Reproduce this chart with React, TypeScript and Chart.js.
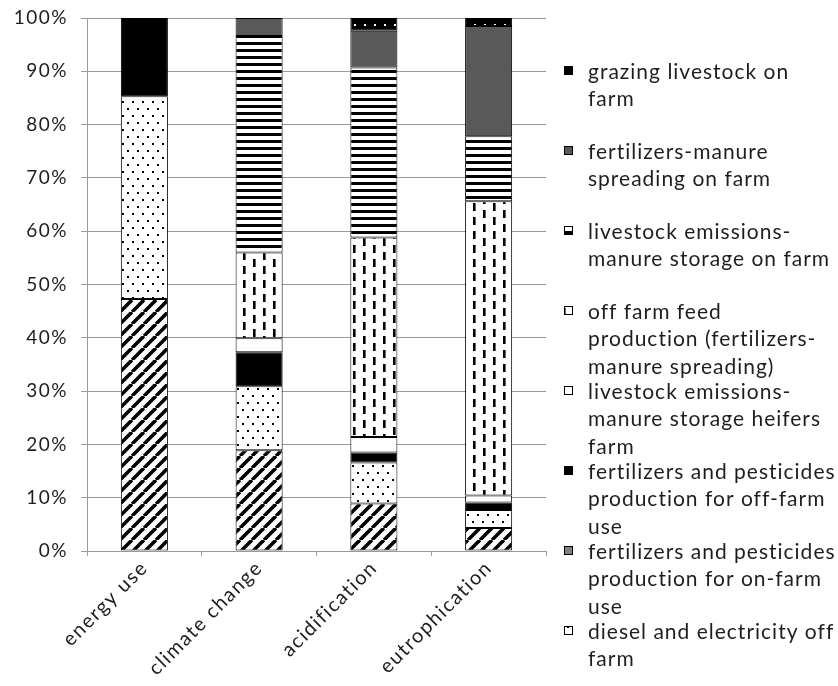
import { useEffect, useRef } from "react";
import { Chart, registerables } from "chart.js";

Chart.register(...registerables);

const categories = ["energy use", "climate change", "acidification", "eutrophication"];

// segment shares (%) per category, bottom to top
const dieselOnFarm = [47.3, 18.9, 8.9, 4.3];
const dieselOffFarm = [38.0, 12.0, 7.7, 3.4];
const fertPestOnFarm = [0, 0, 0, 0];
const fertPestOffFarm = [14.7, 6.4, 1.9, 1.4];
const heifersStorage = [0, 2.6, 2.9, 1.3];
const offFarmFeed = [0, 16.1, 37.4, 55.2];
const onFarmStorage = [0, 40.6, 31.9, 12.2];
const manureSpreading = [0, 3.4, 6.9, 20.7];
const grazing = [0, 0, 2.4, 1.5];

const yTickValues = [0, 10, 20, 30, 40, 50, 60, 70, 80, 90, 100];

// legend labels (as wrapped in the reference)
const labelDieselOn = ["diesel and electricity on farm"];
const labelDieselOff = ["diesel and electricity off", "farm"];
const labelFertOn = ["fertilizers and pesticides", "production for on-farm", "use"];
const labelFertOff = ["fertilizers and pesticides", "production for off-farm", "use"];
const labelHeifers = ["livestock emissions-", "manure storage heifers", "farm"];
const labelFeed = ["off farm feed", "production (fertilizers-", "manure spreading)"];
const labelStorage = ["livestock emissions-", "manure storage on farm"];
const labelSpreading = ["fertilizers-manure", "spreading on farm"];
const labelGrazing = ["grazing livestock on", "farm"];

const FONT = "Lato, 'Open Sans', sans-serif";
const SPACING = "1.5px";

function makeTile(w: number, h: number, draw: (c: CanvasRenderingContext2D) => void): CanvasPattern | string {
  const cv = document.createElement("canvas");
  cv.width = w;
  cv.height = h;
  const c = cv.getContext("2d");
  if (!c) return "#fff";
  draw(c);
  const p = c.createPattern(cv, "repeat");
  return p || "#fff";
}

function patterns() {
  const diagonal = makeTile(12, 12, (c) => {
    c.fillStyle = "#fff";
    c.fillRect(0, 0, 12, 12);
    c.strokeStyle = "#000";
    c.lineWidth = 3.6;
    for (const k of [-12, 0, 12]) {
      c.beginPath();
      c.moveTo(k, 12);
      c.lineTo(k + 12, 0);
      c.stroke();
    }
  });
  const dotted = makeTile(10, 14, (c) => {
    c.fillStyle = "#fff";
    c.fillRect(0, 0, 10, 14);
    c.fillStyle = "#000";
    c.fillRect(2, 3, 2, 2);
    c.fillRect(7, 10, 2, 2);
  });
  const dashed = makeTile(20, 14, (c) => {
    c.fillStyle = "#fff";
    c.fillRect(0, 0, 20, 14);
    c.fillStyle = "#000";
    c.fillRect(3, 0, 2.6, 8);
    c.fillRect(13, 7, 2.6, 7);
    c.fillRect(13, 0, 2.6, 1);
  });
  const stripes = makeTile(7, 7, (c) => {
    c.fillStyle = "#fff";
    c.fillRect(0, 0, 7, 7);
    c.fillStyle = "#000";
    c.fillRect(0, 0, 7, 3);
  });
  const grazingPat = makeTile(10, 10, (c) => {
    c.fillStyle = "#000";
    c.fillRect(0, 0, 10, 10);
    c.fillStyle = "#fff";
    c.fillRect(4, 4, 2, 2);
  });
  return { diagonal, dotted, dashed, stripes, grazingPat };
}

const spacingPlugin = {
  id: "letterSpacing",
  beforeDraw(chart: any) {
    (chart.ctx as any).letterSpacing = SPACING;
  },
};

const legendPlugin = {
  id: "customLegend",
  afterDraw(chart: any) {
    const ctx: CanvasRenderingContext2D = chart.ctx;
    const area = chart.chartArea;
    const sets = chart.data.datasets.filter((d: any) => d.inLegend).slice().reverse();
    ctx.save();
    (ctx as any).letterSpacing = "1px";
    ctx.font = `21px ${FONT}`;
    ctx.textBaseline = "middle";
    ctx.textAlign = "left";
    const iconX = area.right + 18;
    const textX = area.right + 42;
    sets.forEach((ds: any, i: number) => {
      const y0 = area.top + 54 + i * 80;
      ctx.fillStyle = ds.backgroundColor;
      ctx.fillRect(iconX, y0 - 6, 9, 9);
      ctx.strokeStyle = "#000";
      ctx.lineWidth = 1;
      ctx.strokeRect(iconX + 0.5, y0 - 5.5, 8, 8);
      ctx.fillStyle = "#1e1e1e";
      (ds.lines as string[]).forEach((line, j) => {
        ctx.fillText(line, textX, y0 + j * 27.7);
      });
    });
    ctx.restore();
    (ctx as any).letterSpacing = "0px";
  },
};

export default function App() {
  const ref = useRef<HTMLCanvasElement | null>(null);

  useEffect(() => {
    document.body.style.margin = "0";
    if (!ref.current) return;
    const p = patterns();
    const mk = (label: string[], data: number[], bg: any, inLegend = true) => ({
      label: label.join(" "),
      lines: label,
      inLegend,
      data,
      backgroundColor: bg,
      borderColor: "#000",
      borderWidth: 1,
      borderSkipped: false,
      barPercentage: 0.41,
      categoryPercentage: 1,
    });
    const chart = new Chart(ref.current, {
      type: "bar",
      data: {
        labels: categories,
        datasets: [
          mk(labelDieselOn, dieselOnFarm, p.diagonal, false),
          mk(labelDieselOff, dieselOffFarm, p.dotted),
          mk(labelFertOn, fertPestOnFarm, "#808080"),
          mk(labelFertOff, fertPestOffFarm, "#000000"),
          mk(labelHeifers, heifersStorage, "#ffffff"),
          mk(labelFeed, offFarmFeed, p.dashed),
          mk(labelStorage, onFarmStorage, p.stripes),
          mk(labelSpreading, manureSpreading, "#595959"),
          mk(labelGrazing, grazing, p.grazingPat),
        ] as any,
      },
      options: {
        animation: false,
        responsive: true,
        maintainAspectRatio: false,
        layout: { padding: { left: 0, right: 292, top: 18, bottom: 0 } },
        plugins: {
          legend: { display: false },
          tooltip: { enabled: false },
        },
        scales: {
          x: {
            stacked: true,
            grid: {
              offset: true,
              drawOnChartArea: false,
              drawTicks: true,
              tickLength: 5,
              color: "#9a9a9a",
            },
            border: { color: "#9a9a9a" },
            ticks: {
              minRotation: 45,
              maxRotation: 45,
              padding: 0,
              color: "#1e1e1e",
              font: { family: FONT, size: 20 },
            },
            afterFit: (s: any) => {
              s.height = 135;
              s.paddingTop = 0;
            },
          },
          y: {
            stacked: true,
            min: 0,
            max: 100,
            afterBuildTicks: (s: any) => {
              s.ticks = yTickValues.map((v) => ({ value: v }));
            },
            grid: { color: "#9a9a9a", tickLength: 6 },
            border: { color: "#9a9a9a" },
            ticks: {
              padding: 13,
              color: "#1e1e1e",
              font: { family: FONT, size: 19 },
              callback: (v: any) => `${v}%`,
            },
            afterFit: (s: any) => {
              s.width = 87;
              s.paddingTop = 0;
              s.paddingBottom = 0;
            },
          },
        },
      },
      plugins: [spacingPlugin, legendPlugin],
    });
    return () => chart.destroy();
  }, []);

  return (
    <div style={{ width: 838, height: 686, position: "relative" }}>
      <canvas ref={ref} />
    </div>
  );
}
